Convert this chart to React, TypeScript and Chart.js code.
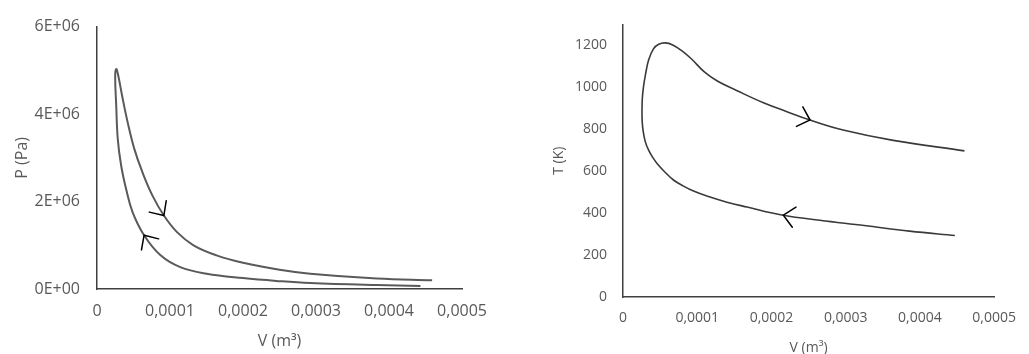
import React, { useEffect, useRef } from "react";
import { Chart, registerables } from "chart.js";

Chart.register(...registerables);

// ---------- P-V diagram data (travel order: compression -> peak -> expansion) ----------
const pvVolume: number[] = [
  0.000443, 0.000383, 0.000292, 0.00025, 0.0002, 0.00015, 0.000114, 0.0000871,
  0.0000645, 0.0000487, 0.0000398, 0.000033, 0.0000284, 0.0000263, 0.0000249,
  0.0000263,
  0.0000286, 0.0000352, 0.000042, 0.000051, 0.0000622, 0.0000758, 0.0000916, 0.0001096,
  0.0001322, 0.0001637, 0.0002, 0.00025, 0.000292, 0.000383, 0.000459,
];
const pvPressure: number[] = [
  70000, 90000, 137000, 180000, 250000, 350000, 500000, 770000,
  1230000, 1760000, 2290000, 2830000, 3440000, 4210000, 4850000,
  5030000,
  4920000, 4350000, 3810000, 3210000, 2670000, 2140000, 1680000, 1300000,
  1000000, 770000, 600000, 440000, 350000, 240000, 200000,
];
const pvArrowVolumes: number[] = [0.0000645, 0.0000916];

// ---------- T-V diagram data ----------
const tvVolume: number[] = [
  0.000447, 0.000386, 0.000325, 0.000265, 0.000216, 0.000167, 0.00014, 0.000114,
  0.000095, 0.000081, 0.000068, 0.000057, 0.000047, 0.00004, 0.0000345, 0.00003,
  0.0000272, 0.0000258, 0.0000256, 0.000026, 0.0000275, 0.0000305, 0.0000345, 0.000041,
  0.000048, 0.000057, 0.000067, 0.000079, 0.000092, 0.00011, 0.000127, 0.000153,
  0.00019, 0.00022, 0.000252, 0.000298, 0.000364, 0.00046,
];
const tvTemperature: number[] = [
  293, 314, 341, 366, 390, 429, 452, 480,
  505, 530, 558, 594, 632, 666, 700, 741,
  790, 840, 890, 945, 1000, 1065, 1130, 1183,
  1205, 1212, 1202, 1175, 1136, 1072, 1030, 985,
  925, 885, 844, 795, 747, 697,
];
const tvArrowVolumes: number[] = [0.000216, 0.000252];

// ---------- axis labels ----------
const xTitle = "V (m³)";
const pvYTitle = "P (Pa)";
const tvYTitle = "T (K)";

const fmtVolume = (v: number) => (Math.abs(v) < 1e-12 ? "0" : v.toFixed(4).replace(".", ","));
const fmtPressure = (v: number) => (v === 0 ? "0E+00" : `${Math.round(v / 1e6)}E+06`);

const FONT = "'Open Sans', 'Noto Sans', sans-serif";
const TEXT = "#595959";

function arrowPlugin(volumes: number[], allV: number[]) {
  return {
    id: "flowArrows",
    afterDatasetsDraw(chart: any) {
      const meta = chart.getDatasetMeta(0);
      const ctx = chart.ctx as CanvasRenderingContext2D;
      ctx.save();
      ctx.strokeStyle = "#000";
      ctx.lineWidth = 1.5;
      ctx.lineCap = "round";
      for (const v of volumes) {
        const i = allV.indexOf(v);
        if (i < 1 || i >= allV.length - 1) continue;
        const p = meta.data[i];
        const a = meta.data[i - 1];
        const b = meta.data[i + 1];
        const ang = Math.atan2(b.y - a.y, b.x - a.x);
        const L = 15;
        const h = (43 * Math.PI) / 180;
        ctx.beginPath();
        ctx.moveTo(p.x - L * Math.cos(ang - h), p.y - L * Math.sin(ang - h));
        ctx.lineTo(p.x, p.y);
        ctx.lineTo(p.x - L * Math.cos(ang + h), p.y - L * Math.sin(ang + h));
        ctx.stroke();
      }
      ctx.restore();
    },
  };
}

type Cfg = {
  xs: number[];
  ys: number[];
  arrows: number[];
  yTitle: string;
  yMax: number;
  yStep: number;
  yFmt: (v: number) => string;
  fontSize: number;
  lineColor: string;
  lineWidth: number;
  padding: { left: number; top: number; right: number; bottom: number };
  yWidth: number;
  xHeight: number;
  yTickPad: number;
  xTickPad: number;
  yTitlePad: number;
  xTitlePad: number;
};

function PlotCanvas({ cfg, width, height }: { cfg: Cfg; width: number; height: number }) {
  const ref = useRef<HTMLCanvasElement | null>(null);
  useEffect(() => {
    if (!ref.current) return;
    const pts = cfg.xs.map((x, i) => ({ x, y: cfg.ys[i] }));
    const font = { family: FONT, size: cfg.fontSize };
    const chart = new Chart(ref.current, {
      type: "scatter",
      data: {
        datasets: [
          {
            data: pts,
            showLine: true,
            borderColor: cfg.lineColor,
            borderWidth: cfg.lineWidth,
            pointRadius: 0,
            tension: 0.4,
            fill: false,
          },
        ],
      },
      options: {
        responsive: false,
        animation: false,
        devicePixelRatio: 1,
        layout: { padding: cfg.padding },
        plugins: { legend: { display: false }, tooltip: { enabled: false } },
        scales: {
          x: {
            type: "linear",
            min: 0,
            max: 0.0005,
            grid: { display: false, drawTicks: false, tickLength: 0 },
            border: { display: true, color: "#404040", width: 1.5 },
            ticks: {
              stepSize: 0.0001,
              color: TEXT,
              font,
              padding: cfg.xTickPad,
              maxRotation: 0,
              callback: (v: any) => fmtVolume(Number(v)),
            },
            title: {
              display: true,
              text: xTitle,
              color: TEXT,
              font,
              padding: { top: 0, bottom: cfg.xTitlePad },
            },
            afterFit: (s: any) => {
              s.height = cfg.xHeight;
            },
          },
          y: {
            type: "linear",
            min: 0,
            max: cfg.yMax,
            grid: { display: false, drawTicks: false, tickLength: 0 },
            border: { display: true, color: "#404040", width: 1.5 },
            ticks: {
              stepSize: cfg.yStep,
              includeBounds: false,
              color: TEXT,
              font,
              padding: cfg.yTickPad,
              callback: (v: any) => cfg.yFmt(Number(v)),
            },
            title: {
              display: true,
              text: cfg.yTitle,
              color: TEXT,
              font,
              padding: { top: cfg.yTitlePad, bottom: 0 },
            },
            afterFit: (s: any) => {
              s.width = cfg.yWidth;
            },
          },
        },
      },
      plugins: [arrowPlugin(cfg.arrows, cfg.xs)],
    } as any);
    return () => chart.destroy();
  }, [cfg]);
  return <canvas ref={ref} width={width} height={height} style={{ width, height, display: "block" }} />;
}

const pvCfg: Cfg = {
  xs: pvVolume,
  ys: pvPressure,
  arrows: pvArrowVolumes,
  yTitle: pvYTitle,
  yMax: 6000000,
  yStep: 2000000,
  yFmt: fmtPressure,
  fontSize: 16,
  lineColor: "#5a5a5a",
  lineWidth: 2,
  padding: { left: 0, top: 26, right: 33, bottom: 0 },
  yWidth: 97,
  xHeight: 65,
  yTickPad: 17,
  xTickPad: 13,
  yTitlePad: 13,
  xTitlePad: 3,
};

const tvCfg: Cfg = {
  xs: tvVolume,
  ys: tvTemperature,
  arrows: tvArrowVolumes,
  yTitle: tvYTitle,
  yMax: 1300,
  yStep: 200,
  yFmt: (v: number) => String(v),
  fontSize: 14,
  lineColor: "#3a3a3a",
  lineWidth: 1.6,
  padding: { left: 0, top: 10, right: 26, bottom: 0 },
  yWidth: 83,
  xHeight: 57,
  yTickPad: 16,
  xTickPad: 13,
  yTitlePad: 11,
  xTitlePad: -2,
};

export default function App() {
  return (
    <div style={{ position: "absolute", left: 0, top: 0, width: 1029, height: 354, background: "#fff", overflow: "hidden" }}>
      <div style={{ position: "absolute", left: 0, top: 0 }}>
        <PlotCanvas cfg={pvCfg} width={500} height={354} />
      </div>
      <div style={{ position: "absolute", left: 540, top: 0 }}>
        <PlotCanvas cfg={tvCfg} width={489} height={354} />
      </div>
    </div>
  );
}
